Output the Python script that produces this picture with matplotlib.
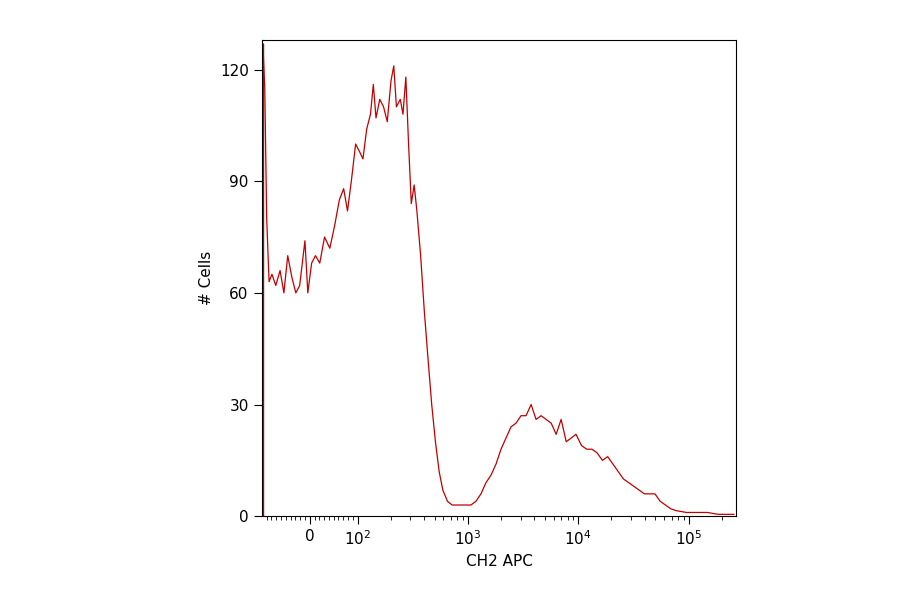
import matplotlib
matplotlib.use("Agg")
import matplotlib.pyplot as plt
import numpy as np
from matplotlib.ticker import FixedLocator

# CH2 APC intensity (data units) and cell counts
apc = [-98, -94, -90, -85, -79, -71, -62, -54, -46, -37, -29, -21, -10, -4, 4, 12, 21, 31, 42, 52,
       62, 71, 79, 87, 96, 104, 112, 121, 131, 139, 147, 159, 172, 186, 201, 213, 225, 244, 258,
       274, 290, 307, 326, 345, 373, 403, 436, 470, 508, 549, 593, 653, 720, 873,
       1065, 1182, 1313, 1458, 1618, 1798, 1995, 2215, 2460, 2730, 3030, 3365, 3740, 4150, 4610,
       5115, 5685, 6310, 7000, 7780, 8630, 9550, 10690, 11920, 13300, 14840, 16560, 18480, 20620,
       23000, 25680, 28650, 31980, 35680, 39810, 44420, 49560, 55300, 61700, 68870, 76850, 95700,
       119000, 148000, 185000, 230000, 257000]
cells = [127, 115, 80, 63, 65, 62, 66, 60, 70, 64, 60, 62, 74, 60, 68, 70, 68, 75, 72, 78,
         85, 88, 82, 90, 100, 98, 96, 104, 108, 116, 107, 112, 110, 106, 117, 121, 110, 112, 108,
         118, 100, 84, 89, 82, 70, 55, 42, 30, 20, 12, 7, 4, 3, 3,
         3, 4, 6, 9, 11, 14, 18, 21, 24, 25, 27, 27, 30, 26, 27,
         26, 25, 22, 26, 20, 21, 22, 19, 18, 18, 17, 15, 16, 14,
         12, 10, 9, 8, 7, 6, 6, 6, 4, 3, 2, 1.5, 1,
         1, 1, 0.5, 0.5, 0.5]

major_ticks = [0, 1e2, 1e3, 1e4, 1e5]
major_labels = ["0", r"$10^2$", r"$10^3$", r"$10^4$", r"$10^5$"]

fig = plt.figure(figsize=(9, 5.94), dpi=100)
ax = fig.add_axes([0.291, 0.131, 0.527, 0.802])
ax.plot([-98, -98], [0, 127], color="#c00000", lw=1)
ax.plot(apc, cells, color="#c00000", lw=0.9)

ax.set_xscale("symlog", linthresh=100, linscale=0.39)
ax.set_xlim(-100, 270000)
ax.set_ylim(0, 128)
ax.xaxis.set_major_locator(FixedLocator(major_ticks))
ax.set_xticklabels(major_labels)
minor = list(np.arange(-90, 100, 10)) + [m * 10**e for e in range(2, 6) for m in range(2, 10)]
ax.xaxis.set_minor_locator(FixedLocator(minor))
ax.set_yticks([0, 30, 60, 90, 120])
ax.tick_params(labelsize=11)
ax.tick_params(which="major", length=6)
ax.tick_params(which="minor", length=3)
ax.set_xlabel("CH2 APC", fontsize=11)
ax.set_ylabel("# Cells", fontsize=11)

fig.savefig("out.png")
